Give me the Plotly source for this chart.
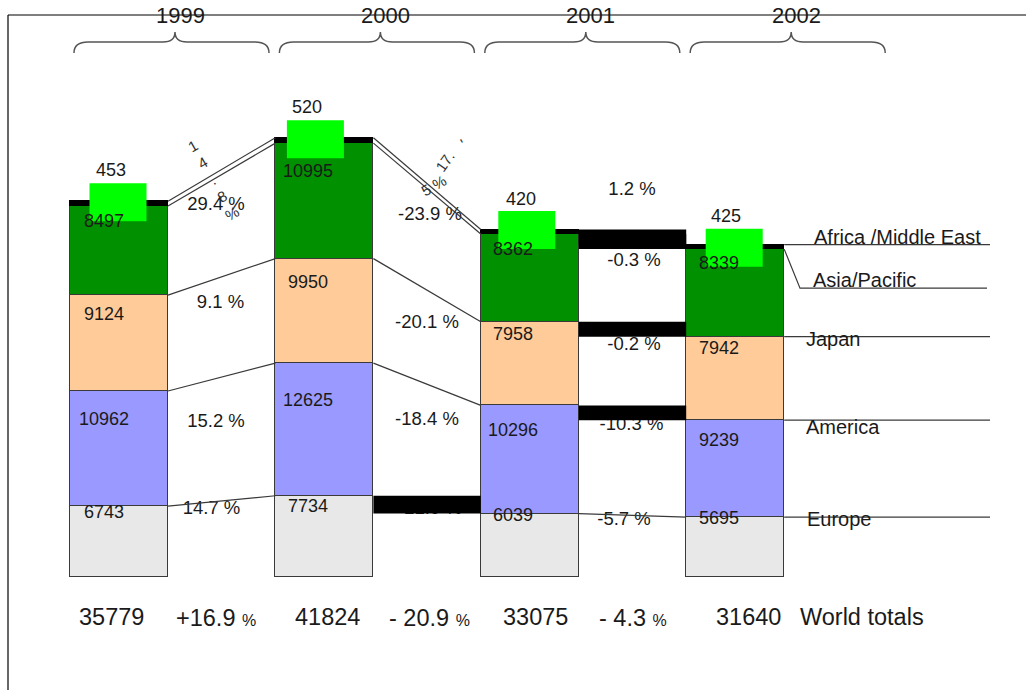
import plotly.graph_objects as go

# ---------------- data ----------------
YEARS = ["1999", "2000", "2001", "2002"]
EUROPE = [6743, 7734, 6039, 5695]
AMERICA = [10962, 12625, 10296, 9239]
JAPAN = [9124, 9950, 7958, 7942]
ASIA_PACIFIC = [8497, 10995, 8362, 8339]
AFRICA_MIDDLE_EAST = [453, 520, 420, 425]

# year-on-year change labels (1999->2000, 2000->2001, 2001->2002)
CHANGE_EUROPE = ["14.7 %", "-21.9 %", "-5.7 %"]
CHANGE_AMERICA = ["15.2 %", "-18.4 %", "-10.3 %"]
CHANGE_JAPAN = ["9.1 %", "-20.1 %", "-0.2 %"]
CHANGE_ASIA_PACIFIC = ["29.4 %", "-23.9 %", "-0.3 %"]
CHANGE_AFRICA_MIDDLE_EAST = ["14.8 %", "-17.5 %", "1.2 %"]

REGION_NAMES = ["Europe", "America", "Japan", "Asia/Pacific", "Africa /Middle East"]
TOTAL_LABEL = "World totals"

# ---------------- geometry / style ----------------
W, H = 1026, 690
PX_X = 205.4          # pixels between neighbouring year columns
X0_PX = 119           # pixel column of the first year
PX_Y = 95.2           # value units per vertical pixel
BASE_PX = 577         # pixel row of value 0
BAR_W = 98 / PX_X
FONT = "Liberation Sans, Arial, sans-serif"
INK = "#1a1a1a"
EDGE = "#3a3a3a"

COLORS = ["#e8e8e8", "#9999ff", "#ffcc99", "#009000", "#000000"]


def ux(px):
    return px / PX_X


def uy(px):
    return px * PX_Y


def col_px(i):
    return X0_PX + i * PX_X


series = [EUROPE, AMERICA, JAPAN, ASIA_PACIFIC, AFRICA_MIDDLE_EAST]
n = len(YEARS)
xs = list(range(n))

# cumulative top of each stacked segment
tops = []
running = [0] * n
for s in series:
    running = [running[i] + s[i] for i in range(n)]
    tops.append(list(running))
totals = tops[-1]

fig = go.Figure()
for k, s in enumerate(series):
    line_col = "#000000" if k == 4 else EDGE
    fig.add_trace(go.Bar(
        x=xs, y=s, width=BAR_W, name=REGION_NAMES[k],
        marker=dict(color=COLORS[k], line=dict(color=line_col, width=1)),
        hoverinfo="skip", showlegend=False))

shapes = []
annotations = []

# ---- connectors between columns: thin lines or filled black bands
#      order per gap: Europe, America, Japan, Asia, Africa
CONNECTOR_KIND = [
    ["line", "line", "line", "line", "line"],
    ["band", "line", "line", "line", "line"],
    ["line", "band", "band", "band", "band"],
]
for g in range(n - 1):
    xa, xb = g + BAR_W / 2, g + 1 - BAR_W / 2
    for k in range(5):
        ya, yb = tops[k][g], tops[k][g + 1]
        if CONNECTOR_KIND[g][k] == "line":
            shapes.append(dict(type="line", xref="x", yref="y", x0=xa, x1=xb,
                               y0=ya, y1=yb, layer="above",
                               line=dict(color=EDGE, width=1.2)))
        else:
            shapes.append(dict(type="rect", xref="x", yref="y", x0=xa, x1=xb,
                               y0=min(ya, yb), y1=max(ya, yb), layer="above",
                               fillcolor="#000000", line=dict(width=0)))

# ---- bright green tags sitting on each column top
TAG_DX = [-1, -9, -3, -1]
TAG_DY = [-1, -1.5, -0.5, -3]
for i in xs:
    shapes.append(dict(type="rect", xref="x", yref="y", xsizemode="pixel",
                       ysizemode="pixel", xanchor=i, yanchor=totals[i],
                       x0=-28.5 + TAG_DX[i], x1=28.5 + TAG_DX[i],
                       y0=-19 + TAG_DY[i], y1=19 + TAG_DY[i],
                       fillcolor="#00ff00", line=dict(width=0), layer="above"))

# ---- region leader lines on the right
x_edge = 3 + BAR_W / 2
x_end = 3 + ux(990 - col_px(3))
for k in (0, 1, 2, 4):
    shapes.append(dict(type="line", xref="x", yref="y", x0=x_edge, x1=x_end,
                       y0=tops[k][3], y1=tops[k][3], layer="above",
                       line=dict(color=EDGE, width=1.2)))
bend_x = 3 + ux(800 - col_px(3))
bend_y = tops[3][3] - uy(39)
shapes.append(dict(type="path", xref="x", yref="y", layer="above",
                   path=f"M {x_edge},{tops[3][3]} L {bend_x},{bend_y} L {3 + ux(987 - col_px(3))},{bend_y}",
                   line=dict(color=EDGE, width=1.2)))


# ---- frame and year braces (pixel geometry -> paper fractions)
def P(x, y):
    return f"{x / W:.5f},{1 - y / H:.5f}"


shapes.append(dict(type="line", xref="paper", yref="paper", x0=8 / W, x1=1,
                   y0=1 - 15 / H, y1=1 - 15 / H, line=dict(color="#000", width=1.2)))
shapes.append(dict(type="line", xref="paper", yref="paper", x0=8 / W, x1=8 / W,
                   y0=0, y1=1 - 15 / H, line=dict(color="#000", width=1.2)))
for i in xs:
    c = col_px(i)
    l, t, r = c - 45, c + 56, c + 150
    path = (f"M {P(l, 53)} Q {P(l, 42)} {P(l + 14, 42)} L {P(t - 12, 42)} "
            f"Q {P(t, 42)} {P(t, 32)} Q {P(t, 42)} {P(t + 12, 42)} "
            f"L {P(r - 14, 42)} Q {P(r, 42)} {P(r, 53)}")
    shapes.append(dict(type="path", xref="paper", yref="paper", path=path,
                       line=dict(color="#555555", width=1.5)))
    annotations.append(dict(x=i, xref="x", xshift=61, y=1 - 15.5 / H, yref="paper",
                            text=YEARS[i], showarrow=False, xanchor="center",
                            yanchor="middle", font=dict(family=FONT, size=22, color=INK)))

# ---- segment value labels (Asia, Japan, America, Europe)
VALUE_DX = [-15, -16.5, -16.5, -16.5]
VALUE_DROP = [
    [14.6, 18.8, 28.0, 5.8],
    [27.9, 23.4, 36.9, 10.2],
    [15.5, 12.2, 24.6, 1.4],
    [13.9, 11.3, 19.9, 0.8],
]
AF_DX = [-8, -17, -8.5, -9.5]
AF_UP = [31, 31, 31, 29]
for i in xs:
    for j, k in enumerate((3, 2, 1, 0)):
        annotations.append(dict(x=i, y=tops[k][i], xref="x", yref="y",
                                xshift=VALUE_DX[i], yshift=-VALUE_DROP[i][j],
                                text=str(series[k][i]), showarrow=False,
                                xanchor="center", yanchor="middle",
                                font=dict(family=FONT, size=18, color=INK)))
    # Africa / Middle East value above the green tag
    annotations.append(dict(x=i, y=totals[i], xref="x", yref="y",
                            xshift=AF_DX[i], yshift=AF_UP[i],
                            text=str(AFRICA_MIDDLE_EAST[i]), showarrow=False,
                            xanchor="center", yanchor="middle",
                            font=dict(family=FONT, size=18, color=INK)))

# ---- change labels between columns (drawn as a text trace so bands cover them)
changes = [CHANGE_EUROPE, CHANGE_AMERICA, CHANGE_JAPAN, CHANGE_ASIA_PACIFIC]
PCT_DX = [  # Asia, Japan, America, Europe
    [-5.7, -1.2, -5.7, -10.2],
    [2.9, -0.1, -0.1, 2.9],
    [1.5, 1.5, -1, -8.5],
]
PCT_DROP = [
    [31, 26.1, 45, 8.5],
    [27, 33.3, 35.8, 4.3],
    [20, 15.8, 12.3, 4.6],
]
tx, ty, tt = [], [], []
for g in range(n - 1):
    for j, k in enumerate((3, 2, 1, 0)):
        mid = (tops[k][g] + tops[k][g + 1]) / 2
        tx.append(g + 0.5 + ux(PCT_DX[g][j]))
        ty.append(mid - uy(PCT_DROP[g][j]))
        tt.append(changes[k][g])
af_mid = (totals[2] + totals[3]) / 2
tx.append(2.5 + ux(-0.5))
ty.append(af_mid + uy(47))
tt.append(CHANGE_AFRICA_MIDDLE_EAST[2])
fig.add_trace(go.Scatter(x=tx, y=ty, text=tt, mode="text", textposition="middle center",
                         textfont=dict(family=FONT, size=18.5, color=INK),
                         hoverinfo="skip", showlegend=False, cliponaxis=False))

# ---- Africa change labels squeezed along the double connector
s0 = CHANGE_AFRICA_MIDDLE_EAST[0]
stacked = "<br>".join(ch for ch in s0 if ch != " ")
m0 = (totals[0] + totals[1]) / 2
annotations.append(dict(x=0.5 + ux(-9), y=m0 - uy(10.5), xref="x", yref="y",
                        text=stacked, textangle=-30, showarrow=False,
                        xanchor="center", yanchor="middle",
                        font=dict(family=FONT, size=15, color="#333333")))
s1 = CHANGE_AFRICA_MIDDLE_EAST[1]
m1 = (totals[1] + totals[2]) / 2
for piece, ddx, dup, ang in ((s1[0], 35, 43.7, 60), (s1[1:4], 18, 21.7, -55), (s1[4:], 7, -2.3, -30)):
    annotations.append(dict(x=1.5 + ux(ddx), y=m1 + uy(dup), xref="x", yref="y",
                            text=piece, textangle=ang, showarrow=False,
                            xanchor="center", yanchor="middle",
                            font=dict(family=FONT, size=15, color="#333333")))

# ---- region names on the right
REGION_DX = [70, 69, 69, 76, 77]
REGION_DY = [-1.8, -6.9, -1.8, -30.9, 8]
for k in range(5):
    annotations.append(dict(x=3, y=tops[k][3], xref="x", yref="y",
                            xshift=REGION_DX[k], yshift=REGION_DY[k],
                            text=REGION_NAMES[k], showarrow=False,
                            xanchor="left", yanchor="middle",
                            font=dict(family=FONT, size=20, color=INK)))

# ---- world totals row
TOTAL_DX = [-7.5, 2.6, 5.2, 12.8]
TREND_DX = [-5.7, 1.9, 0.5]
for i in xs:
    annotations.append(dict(x=i, y=0, xref="x", yref="y", xshift=TOTAL_DX[i], yshift=-40,
                            text=str(totals[i]), showarrow=False, xanchor="center",
                            yanchor="middle", font=dict(family=FONT, size=23.5, color=INK)))
for g in range(n - 1):
    pct = (totals[g + 1] / totals[g] - 1) * 100
    num = f"+{pct:.1f}" if pct > 0 else f"- {abs(pct):.1f}"
    annotations.append(dict(x=g + 0.5, y=0, xref="x", yref="y", xshift=TREND_DX[g], yshift=-41,
                            text=f"{num} <span style='font-size:16px'>%</span>",
                            showarrow=False, xanchor="center", yanchor="middle",
                            font=dict(family=FONT, size=23.5, color=INK)))
annotations.append(dict(x=3, y=0, xref="x", yref="y", xshift=63, yshift=-40,
                        text=TOTAL_LABEL, showarrow=False, xanchor="left",
                        yanchor="middle", font=dict(family=FONT, size=23.5, color=INK)))

fig.update_layout(
    width=W, height=H, autosize=False,
    margin=dict(l=0, r=0, t=0, b=0, pad=0),
    paper_bgcolor="white", plot_bgcolor="white",
    barmode="stack", bargap=0,
    xaxis=dict(range=[-X0_PX / PX_X, (W - X0_PX) / PX_X], visible=False, fixedrange=True),
    yaxis=dict(range=[-(H - BASE_PX) * PX_Y, BASE_PX * PX_Y], visible=False, fixedrange=True),
    shapes=shapes, annotations=annotations,
    showlegend=False,
)

fig.write_html("out.html", config={"displayModeBar": False})
